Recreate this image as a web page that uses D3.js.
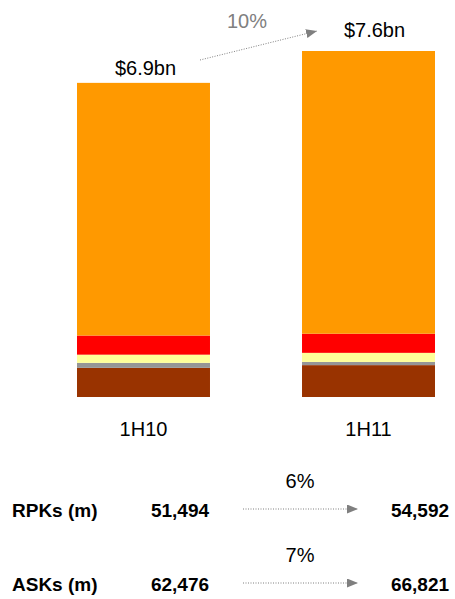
<!DOCTYPE html>
<html>
<head>
<meta charset="utf-8">
<script src="https://cdn.jsdelivr.net/npm/d3@7"></script>
<style>
  body { margin: 0; background: #fff; }
  text { font-family: "Liberation Sans", Arial, sans-serif; }
</style>
</head>
<body>
<div id="chart"></div>
<script>
// data
const periods = ["1H10", "1H11"];
const segments = ["brown", "gray", "yellow", "red", "orange"];
const seg1H10 = [0.64, 0.11, 0.18, 0.42, 5.55];
const seg1H11 = [0.70, 0.07, 0.20, 0.42, 6.21];
const metrics = ["RPKs (m)", "ASKs (m)"];
const metric1H10 = [51494, 62476];
const metric1H11 = [54592, 66821];

const colors = {
    brown: "#993300",
    gray: "#969696",
    yellow: "#FFFF99",
    red: "#FF0000",
    orange: "#FF9900"
};
const arrowGray = "#7f7f7f";

const width = 455, height = 599;

const svg = d3.select("#chart")
    .append("svg")
    .attr("width", width)
    .attr("height", height);

svg.append("defs").append("marker")
    .attr("id", "head")
    .attr("viewBox", "0 0 11 9")
    .attr("refX", 11)
    .attr("refY", 4.5)
    .attr("markerWidth", 11)
    .attr("markerHeight", 9)
    .attr("markerUnits", "userSpaceOnUse")
    .attr("orient", "auto")
    .append("path")
    .attr("d", "M0,0L11,4.5L0,9Z")
    .attr("fill", arrowGray);

// scales
const x = d3.scaleBand()
    .domain(periods)
    .range([77, 435])
    .paddingInner(0.409)
    .paddingOuter(0);

const y = d3.scaleLinear()
    .domain([0, 7.6])
    .range([397, 51]);

// stacked bars
const rows = periods.map((p, i) => {
    const vals = i === 0 ? seg1H10 : seg1H11;
    const r = { period: p };
    segments.forEach((s, j) => r[s] = vals[j]);
    return r;
});
const stack = d3.stack().keys(segments)(rows);

svg.append("g")
    .selectAll("g")
    .data(stack)
    .join("g")
    .attr("fill", d => colors[d.key])
    .selectAll("rect")
    .data(d => d)
    .join("rect")
    .attr("x", d => x(d.data.period))
    .attr("y", d => y(d[1]))
    .attr("width", x.bandwidth())
    .attr("height", d => y(d[0]) - y(d[1]));

// totals
const totals = [d3.sum(seg1H10), d3.sum(seg1H11)];
const labelDx = [2, 6], labelDy = [-8, -14];

svg.append("g")
    .selectAll("text")
    .data(totals)
    .join("text")
    .attr("x", (d, i) => x(periods[i]) + x.bandwidth() / 2 + labelDx[i])
    .attr("y", (d, i) => y(d) + labelDy[i])
    .attr("text-anchor", "middle")
    .style("font-size", "20px")
    .attr("fill", "#000")
    .text(d => `$${d.toFixed(1)}bn`);

// category labels
svg.append("g")
    .selectAll("text")
    .data(periods)
    .join("text")
    .attr("x", d => x(d) + x.bandwidth() / 2)
    .attr("y", 436)
    .attr("text-anchor", "middle")
    .style("font-size", "20px")
    .attr("fill", "#000")
    .text(d => d);

// growth arrow between totals
const pct = d3.format(".0%");
svg.append("line")
    .attr("x1", 200).attr("y1", 60)
    .attr("x2", 317).attr("y2", 31)
    .attr("stroke", arrowGray)
    .attr("stroke-width", 1)
    .attr("stroke-dasharray", "1,1.5")
    .attr("marker-end", "url(#head)");

svg.append("text")
    .attr("x", 247)
    .attr("y", 28)
    .attr("text-anchor", "middle")
    .style("font-size", "20px")
    .attr("fill", "#808080")
    .text(pct(totals[1] / totals[0] - 1));

// traffic table
const rowY = d3.scaleLinear().domain([0, 1]).range([517, 591]);
const fmt = d3.format(",");

const tbl = svg.append("g")
    .selectAll("g")
    .data(metrics)
    .join("g")
    .attr("transform", (d, i) => `translate(0,${rowY(i)})`);

tbl.append("text")
    .attr("x", 12)
    .style("font-size", "19px")
    .style("font-weight", "bold")
    .text(d => d);

tbl.append("text")
    .attr("x", 180)
    .attr("text-anchor", "middle")
    .style("font-size", "19px")
    .style("font-weight", "bold")
    .text((d, i) => fmt(metric1H10[i]));

tbl.append("text")
    .attr("x", 420)
    .attr("text-anchor", "middle")
    .style("font-size", "19px")
    .style("font-weight", "bold")
    .text((d, i) => fmt(metric1H11[i]));

tbl.append("line")
    .attr("x1", 243).attr("y1", -8)
    .attr("x2", 358).attr("y2", -8)
    .attr("stroke", arrowGray)
    .attr("stroke-width", 1)
    .attr("stroke-dasharray", "1,1.5")
    .attr("marker-end", "url(#head)");

tbl.append("text")
    .attr("x", 300)
    .attr("y", -29)
    .attr("text-anchor", "middle")
    .style("font-size", "20px")
    .attr("fill", "#000")
    .text((d, i) => pct(metric1H11[i] / metric1H10[i] - 1));
</script>
</body>
</html>
